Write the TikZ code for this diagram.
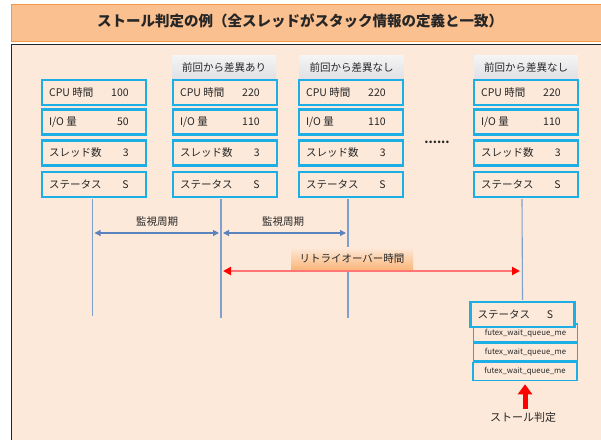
\documentclass[tikz,border=0pt]{standalone}
\usepackage{fontspec}
\setmainfont{Noto Sans CJK JP}
\usetikzlibrary{arrows.meta}
\definecolor{panelfill}{HTML}{FDE9D9}
\definecolor{panelline}{HTML}{262626}
\definecolor{titlefill}{HTML}{FAC090}
\definecolor{titleline}{HTML}{F79646}
\definecolor{cellline}{HTML}{1EAEE6}
\definecolor{guide}{HTML}{7F9FCF}
\definecolor{monblue}{HTML}{5B84BE}
\definecolor{redline}{HTML}{FF7474}
\definecolor{txt}{HTML}{262626}
\begin{document}
\begin{tikzpicture}[x=1pt,y=-1pt,
  cell/.style={draw=cellline,line width=2.2pt,fill=panelfill,minimum width=104pt,minimum height=25pt,inner sep=0pt},
  fcell/.style={draw=cellline,line width=1.6pt,fill=panelfill,minimum width=104pt,minimum height=18pt,inner sep=0pt,
    text=txt,font=\fontsize{7.8}{9}\selectfont},
  lbl/.style={text=txt,font=\fontsize{10.5}{12}\selectfont,inner sep=0pt},
  hdr/.style={top color=white!92!gray,bottom color=blue!10!gray!22,minimum width=104pt,minimum height=24pt,
    inner sep=0pt,text=txt,font=\fontsize{10.5}{12}\selectfont},
  guideline/.style={draw=guide,line width=1.1pt},
  monarrow/.style={draw=monblue,line width=1.1pt,{Triangle[width=6pt,length=6pt]}-{Triangle[width=6pt,length=6pt]},shorten <=2pt,shorten >=2pt},
  retryarrow/.style={draw=redline,line width=2pt,{Triangle[width=8pt,length=8pt,fill=red,color=red]}-{Triangle[width=8pt,length=8pt,fill=red,color=red]},shorten <=2pt,shorten >=2pt},
  bigarrow/.style={draw=red,line width=5pt,-{Triangle[width=14pt,length=10pt]}}
]
\useasboundingbox (0,0) rectangle (601,439);
\clip (0,0) rectangle (601,439);
\fill[white] (0,0) rectangle (601,439);
% title bar
\node[draw=titleline,fill=titlefill,line width=1.4pt,anchor=north west,minimum width=620pt,minimum height=37pt,inner sep=0pt] (titlebar) at (10.5,3.5) {};
\node[font=\bfseries\fontsize{14.5}{16}\selectfont,text=txt] (title) at (300,21) {ストール判定の例（全スレッドがスタック情報の定義と一致）};
% panel
\node[draw=panelline,fill=panelfill,line width=1.5pt,anchor=north west,minimum width=620pt,minimum height=420pt,inner sep=0pt] (panel) at (10.5,43.5) {};
% headers
\node[hdr] (h2) at (224,67) {前回から差異あり};
\node[hdr] (h3) at (351.5,67) {前回から差異なし};
\node[hdr] (h4) at (526,67) {前回から差異なし};
% cells
\foreach \c/\x/\cpu/\io in {1/94/100/50,2/225/220/110,3/351/220/110,4/526/220/110}{
  \foreach \r/\y/\lab/\val in {1/92.5/{CPU 時間}/\cpu,2/122/{I/O 量}/\io,3/153/{スレッド数}/3,4/184.5/{ステータス}/S}{
    \node[cell] (c\c r\r) at (\x,\y) {};
    \node[lbl,anchor=west] (c\c r\r l) at ([xshift=8pt]c\c r\r.west) {\lab};
    \node[lbl,anchor=east] (c\c r\r v) at ([xshift=88pt]c\c r\r.west) {\val};
  }
}
\node[text=txt,font=\bfseries\fontsize{12}{14}\selectfont] (dots) at (437,142) {......};
% futex boxes and final status
\node[fcell] (f1) at (525.5,333) {futex\_wait\_queue\_me};
\node[fcell] (f2) at (525.5,352) {futex\_wait\_queue\_me};
\node[fcell] (f3) at (525,371.5) {futex\_wait\_queue\_me};
\node[cell] (s4) at (522.5,314.5) {};
\node[lbl,anchor=west] (s4l) at ([xshift=8pt]s4.west) {ステータス};
\node[lbl,anchor=east] (s4v) at ([xshift=84pt]s4.west) {S};
% guide lines
\coordinate (g1t) at (92.5,199); \coordinate (g1b) at (92.5,316);
\coordinate (g2t) at (221,199);  \coordinate (g2b) at (221,318);
\coordinate (g3t) at (348,199);  \coordinate (g3b) at (348,318);
\coordinate (g4t) at (522,199);
\draw[guideline] (g1t) -- (g1b);
\draw[guideline] (g2t) -- (g2b);
\draw[guideline] (g3t) -- (g3b);
\draw[guideline] (g4t) -- ([yshift=1.1pt]s4.north);
% monitor period arrows
\coordinate (a1) at (92.5,233); \coordinate (a2) at (221,233); \coordinate (a3) at (348,233);
\draw[monarrow] (a1) -- (a2);
\draw[monarrow] (a2) -- (a3);
\node[lbl] (m1) at (157,222) {監視周期};
\node[lbl] (m2) at (283,222) {監視周期};
% retry arrow
\coordinate (r2) at (221,271); \coordinate (r4) at (522,271);
\draw[retryarrow] (r2) -- (r4);
\node[top color=panelfill,bottom color=titlefill!85!orange,minimum width=122pt,minimum height=22pt,inner sep=0pt,
  text=txt,font=\fontsize{10.5}{12}\selectfont] (retry) at (352,258.5) {リトライオーバー時間};
% stall judgement
\node[lbl,font=\fontsize{11}{13}\selectfont] (stall) at (523,417) {ストール判定};
\draw[bigarrow] ([yshift=3pt]stall.north -| f3.south) -- ([yshift=-3pt]f3.south);
\end{tikzpicture}
\end{document}
